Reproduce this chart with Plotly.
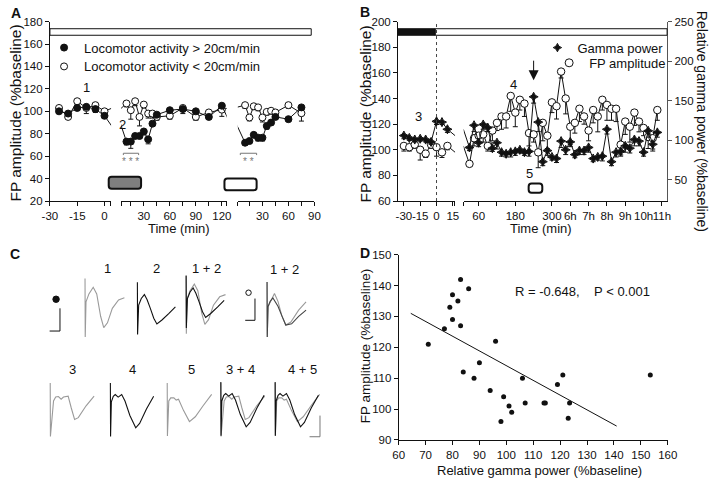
import plotly.graph_objects as go

W, H = 720, 484
FONT = "Liberation Sans, Arial, sans-serif"
INK = "#111111"
GREY = "#9a9a9a"

def px_x(p):
    return p / W

def px_y(p):
    return 1 - p / H

# ---------------- Panel A data ----------------
A_T_BASE = [-25, -20, -15, -10, -5, 0]
A_T_INJ1 = [10, 15, 20, 25, 30, 35, 40, 45, 60, 75, 90, 105, 120]
A_T_INJ2 = [10, 15, 20, 25, 30, 35, 40, 45, 60, 75]
A_INJ2_START = 130  # second session start on the first time frame (min)

A_FAST_BASE = [100, 98, 103, 104, 102, 96]
A_FAST_INJ1 = [73, 73, 78, 78, 82, 75, 89, 97, 101, 102, 100, 95, 105]
A_FAST_INJ2 = [72, 73.5, 79, 76.5, 76.5, 87, 90, 95, 93, 103.5]
A_SLOW_BASE = [103, 95, 109, 103, 105.5, 100]
A_SLOW_INJ1 = [107, 101, 109, 95, 106, 98, 98, 95, 96, 103, 95, 99, 101.5]
A_SLOW_INJ2 = [105.5, 94.5, 104.5, 103.5, 94.5, 99.5, 100.5, 99, 105.5, 98.3]

A_FAST_ERR_BASE = [2, 2, 2, 2, 3, 2]
A_FAST_ERR_INJ1 = [3, 6, 2, 2, 3, 4, 2, 2, 2, 2, 2, 2, 2]
A_FAST_ERR_INJ2 = [2, 2, 2, 3, 3, 3, 2, 2, 2, 2]
A_SLOW_ERR_BASE = [2, 2, 3, 5, 3, 3]
A_SLOW_ERR_INJ1 = [3, 8, 4, 8, 3, 4, 4, 3, 3, 5, 3, 3, 6]
A_SLOW_ERR_INJ2 = [3, 3, 3, 3, 4, 3, 3, 3, 3, 7]

# ---------------- Panel B data ----------------
B_T_PRE = [-30, -25, -20, -15, -10, -5, 0, 5, 10]
B_GAMMA_PRE = [106, 103, 101, 102, 101, 98, 124, 123, 114]
B_FP_PRE = [103, 102, 104, 100, 97, 104, 102, 98, 103]
B_GAMMA_ERR_PRE = [4, 3, 3, 3, 3, 3, 4, 3, 4]
B_FP_ERR_PRE = [4, 3, 3, 8, 3, 3, 7, 4, 3]

B_T_POST = [30, 45, 60, 75, 90, 105, 120, 135, 150, 165, 180, 195, 210, 225,
            240, 255, 270, 285, 300, 315, 330, 345, 360, 375, 390, 405, 420,
            435, 450, 465, 480, 495, 510, 525, 540, 555, 570, 585, 600, 615,
            630, 645]
B_GAMMA_POST = [91, 119, 97, 120, 116, 90, 97, 85, 83, 85, 86, 88, 85, 86, 155,
                123, 73, 87, 79, 77, 99, 88, 98, 82, 87, 87, 91, 77, 79, 80,
                114, 73, 85, 86, 93, 90, 101, 99, 85, 112, 95, 110]
B_FP_POST = [89, 109, 111, 112, 103, 115, 121, 126, 126, 142, 129, 139, 136,
             113, 112, 98, 121, 111, 137, 134, 161, 140, 118, 121, 132, 126,
             115, 131, 126, 139, 135, 132, 132, 104, 122, 118, 129, 122, 117,
             110, 109, 131]
B_FP_ERR_POST = [0, 6, 5, 6, 4, 8, 6, 10, 9, 12, 11, 8, 10, 10, 6, 12, 14, 10,
                 8, 10, 5, 12, 14, 8, 10, 6, 8, 10, 12, 8, 12, 9, 10, 8, 10,
                 12, 10, 8, 6, 9, 10, 8]
B_GAMMA_ERR_POST = [4, 8, 5, 6, 5, 4, 8, 5, 4, 6, 5, 4, 4, 6, 8, 12, 5, 6, 4, 5,
                    8, 6, 6, 4, 5, 5, 6, 4, 4, 6, 6, 5, 6, 6, 8, 6, 8, 6, 5, 8,
                    6, 6]
B_X2_TICKS = [11, 60, 120, 180, 240, 300, 360, 420, 480, 540, 600, 660]
B_X2_LABELS = ["", "60", "", "180", "", "300", "6h", "7h", "8h", "9h", "10h", "11h"]

# ---------------- Panel C data (ms, mV) ----------------
C_W1_T = [0, 0.05, 0.25, 1, 2.1, 3, 4, 4.8, 5.75, 7, 8.6, 10.1]
C_W1_V = [0.53, -0.8, 0, 0.18, 0.33, 0.18, -0.33, -0.59, -0.48, -0.15, 0.04, 0.09]
C_W2_T = [0, 0.05, 0.33, 1, 1.8, 2.5, 3.3, 4.2, 5, 6.3, 8.1, 9.75]
C_W2_V = [0.52, -0.67, 0, 0.15, 0.24, 0.12, -0.07, -0.3, -0.43, -0.34, -0.19, -0.04]
C_O1_T = [0, 0.05, 0.25, 1, 1.9, 2.8, 3.8, 4.8, 6.1, 8.1, 10]
C_O1_V = [0.56, -0.69, 0, 0.15, 0.3, 0.12, -0.21, -0.42, -0.35, -0.08, 0.11]
C_O2_T = [0, 0.05, 0.25, 0.8, 1.5, 2.8, 3.8, 4.8, 6.3, 8.1, 10]
C_O2_V = [0.56, -0.69, 0, 0.12, 0.2, 0.01, -0.21, -0.42, -0.39, -0.22, -0.08]
C_W3_T = [0, 0.05, 0.85, 1.4, 2.1, 2.8, 3.4, 4.6, 5.4, 6.25, 7.2, 9.2, 11.25]
C_W3_V = [0.41, -0.81, 0, 0.09, 0.1, 0.04, 0.09, 0.11, -0.16, -0.42, -0.38, -0.11, 0.11]
C_W4_T = [0, 0.05, 0.25, 0.75, 1.25, 2, 2.9, 3.75, 5, 6.5, 7.5, 9.25, 11.1]
C_W4_V = [0.43, -0.79, 0, 0.13, 0.17, 0.11, 0.17, 0.02, -0.31, -0.59, -0.49, -0.16, 0.13]
C_W5_T = [0, 0.05, 0.4, 0.9, 1.7, 2.3, 2.9, 4.2, 5.7, 7.2, 9.2, 11.4]
C_W5_V = [0.41, -0.8, 0, 0.07, 0.07, 0.02, 0.04, -0.22, -0.47, -0.36, -0.11, 0.15]

# ---------------- Panel D data ----------------
D_GAMMA = [71, 77, 79, 80, 80, 82, 83, 83, 86, 84, 88, 90, 94, 96, 99, 98, 101,
           102, 106, 107, 114, 114.5, 119, 121, 123.5, 123, 153.5]
D_FP = [121, 126, 133, 137, 129, 135, 127, 142, 139, 112, 110, 115, 106, 122,
        104, 96, 101, 99, 110, 102, 102, 102, 108, 111, 102, 97, 111]
D_FIT_X = [64.5, 141]
D_FIT_Y = [131, 94.5]

fig = go.Figure()


def series(x, y, xa, ya, filled, err, symbol="circle", size=7):
    return go.Scatter(
        x=x, y=y, xaxis=xa, yaxis=ya, mode="lines+markers",
        line=dict(color=INK, width=1),
        marker=dict(symbol=symbol, size=size, color=INK if filled else "white",
                    line=dict(color=INK, width=1)),
        error_y=dict(type="data", symmetric=False, array=[0] * len(err),
                     arrayminus=err, color=INK, thickness=1, width=2.5),
        showlegend=False, hoverinfo="skip")


def connector(x, y, xa, ya):
    return go.Scatter(x=x, y=y, xaxis=xa, yaxis=ya, mode="lines",
                      line=dict(color=INK, width=1), showlegend=False,
                      hoverinfo="skip")


# ---- Panel A traces ----
for base, inj1, inj2, eb, e1, e2, filled in [
        (A_SLOW_BASE, A_SLOW_INJ1, A_SLOW_INJ2, A_SLOW_ERR_BASE, A_SLOW_ERR_INJ1, A_SLOW_ERR_INJ2, False),
        (A_FAST_BASE, A_FAST_INJ1, A_FAST_INJ2, A_FAST_ERR_BASE, A_FAST_ERR_INJ1, A_FAST_ERR_INJ2, True)]:
    fig.add_trace(connector([A_T_BASE[-1], A_T_INJ1[0]], [base[-1], inj1[0]], "x", "y"))
    fig.add_trace(connector([A_T_BASE[-1], A_T_INJ1[0]], [base[-1], inj1[0]], "x2", "y"))
    fig.add_trace(connector([A_T_INJ1[-1], A_T_INJ2[0] + A_INJ2_START], [inj1[-1], inj2[0]], "x2", "y"))
    fig.add_trace(connector([A_T_INJ1[-1] - A_INJ2_START, A_T_INJ2[0]], [inj1[-1], inj2[0]], "x3", "y"))
    fig.add_trace(series(A_T_BASE, base, "x", "y", filled, eb))
    fig.add_trace(series(A_T_INJ1, inj1, "x2", "y", filled, e1))
    fig.add_trace(series(A_T_INJ2, inj2, "x3", "y", filled, e2))

fig.add_trace(go.Scatter(x=[None], y=[None], xaxis="x", yaxis="y", mode="markers",
                         marker=dict(symbol="circle", size=7, color=INK, line=dict(color=INK, width=1)),
                         name="Locomotor activity > 20cm/min", legend="legend"))
fig.add_trace(go.Scatter(x=[None], y=[None], xaxis="x", yaxis="y", mode="markers",
                         marker=dict(symbol="circle", size=7, color="white", line=dict(color=INK, width=1)),
                         name="Locomotor activity < 20cm/min", legend="legend2"))

# ---- Panel B traces ----
fig.add_trace(connector([B_T_PRE[-1], B_T_POST[0]], [B_FP_PRE[-1], B_FP_POST[0]], "x4", "y2"))
fig.add_trace(connector([B_T_PRE[-1], B_T_POST[0]], [B_FP_PRE[-1], B_FP_POST[0]], "x5", "y2"))
fig.add_trace(connector([B_T_PRE[-1], B_T_POST[0]], [B_GAMMA_PRE[-1], B_GAMMA_POST[0]], "x4", "y3"))
fig.add_trace(connector([B_T_PRE[-1], B_T_POST[0]], [B_GAMMA_PRE[-1], B_GAMMA_POST[0]], "x5", "y3"))
fig.add_trace(series(B_T_PRE, B_FP_PRE, "x4", "y2", False, B_FP_ERR_PRE, size=7.5))
fig.add_trace(series(B_T_POST, B_FP_POST, "x5", "y2", False, B_FP_ERR_POST, size=7.5))
fig.add_trace(series(B_T_PRE, B_GAMMA_PRE, "x4", "y3", True, B_GAMMA_ERR_PRE, symbol="star-diamond", size=6.5))
fig.add_trace(series(B_T_POST, B_GAMMA_POST, "x5", "y3", True, B_GAMMA_ERR_POST, symbol="star-diamond", size=6.5))
fig.add_trace(go.Scatter(x=[None], y=[None], xaxis="x5", yaxis="y2", mode="markers",
                         marker=dict(symbol="star-diamond", size=6, color=INK, line=dict(color=INK, width=1)),
                         name="Gamma power", legend="legend3"))
fig.add_trace(go.Scatter(x=[None], y=[None], xaxis="x5", yaxis="y2", mode="markers",
                         marker=dict(symbol="circle", size=8, color="white", line=dict(color=INK, width=1)),
                         name="FP amplitude", legend="legend4"))

# ---- Panel C traces ----
C_CELLS = [
    # (artifact x px, baseline y px, traces)
    (79.0, 303.3, [(C_W1_T, C_W1_V, GREY)]),
    (132.7, 306.7, [(C_W2_T, C_W2_V, INK)]),
    (182.7, 300.0, [(C_W1_T, C_W1_V, GREY), (C_W2_T, C_W2_V, INK)]),
    (265.7, 308.3, [(C_O1_T, C_O1_V, GREY), (C_O2_T, C_O2_V, "#444444")]),
    (43.3, 405.0, [(C_W3_T, C_W3_V, GREY)]),
    (105.0, 406.0, [(C_W4_T, C_W4_V, INK)]),
    (163.3, 405.0, [(C_W5_T, C_W5_V, GREY)]),
    (218.3, 405.0, [(C_W3_T, C_W3_V, GREY), (C_W4_T, C_W4_V, INK)]),
    (274.0, 405.0, [(C_W5_T, C_W5_V, GREY), (C_W4_T, C_W4_V, INK)]),
]

layout_axes = {}
for k, (ax, by, traces) in enumerate(C_CELLS):
    xn, yn = 7 + k, 5 + k
    for t, v, col in traces:
        fig.add_trace(go.Scatter(x=t, y=v, xaxis=f"x{xn}", yaxis=f"y{yn}", mode="lines",
                                 line=dict(color=col, width=1.1), showlegend=False,
                                 hoverinfo="skip"))
    layout_axes[f"xaxis{xn}"] = dict(domain=[px_x(ax - 4), px_x(ax + 48)], range=[-1, 12],
                                     anchor=f"y{yn}", visible=False)
    layout_axes[f"yaxis{yn}"] = dict(domain=[px_y(by + 45), px_y(by - 31.5)], range=[-1.0, 0.7],
                                     anchor=f"x{xn}", visible=False)

# ---- Panel D traces ----
fig.add_trace(go.Scatter(x=D_FIT_X, y=D_FIT_Y, xaxis="x6", yaxis="y4", mode="lines",
                         line=dict(color=INK, width=1), showlegend=False, hoverinfo="skip"))
fig.add_trace(go.Scatter(x=D_GAMMA, y=D_FP, xaxis="x6", yaxis="y4", mode="markers",
                         marker=dict(size=5, color=INK), showlegend=False, hoverinfo="skip"))

# ---------------- axes ----------------
TICKFONT = dict(family=FONT, size=11.5, color=INK)


def axis(**kw):
    d = dict(showgrid=False, zeroline=False, showline=True, linecolor=INK, linewidth=1,
             ticks="outside", ticklen=4, tickcolor=INK, tickwidth=1, tickfont=TICKFONT,
             tickmode="array", tickangle=0)
    d.update(kw)
    return d


layout_axes.update(
    xaxis=axis(domain=[px_x(43), px_x(105.7)], range=[-30, 3.6], anchor="y",
               tickvals=[-30, -15, 0, 3.55], ticktext=["-30", "-15", "0", ""]),
    xaxis2=axis(domain=[px_x(116), px_x(224.3)], range=[3.8, 125.6], anchor="y",
                tickvals=[3.85, 15, 30, 45, 60, 75, 90, 105, 120, 125.5],
                ticktext=["", "", "30", "", "60", "", "90", "", "120", ""]),
    xaxis3=axis(domain=[px_x(235.7), px_x(314.3)], range=[1.6, 90], anchor="y",
                tickvals=[1.65, 15, 30, 45, 60, 75, 90],
                ticktext=["", "", "30", "", "60", "", "90"]),
    yaxis=axis(domain=[px_y(200), px_y(16)], range=[20, 180], anchor="x",
               tickvals=[20, 40, 60, 80, 100, 120, 140, 160, 180]),
    xaxis4=axis(domain=[px_x(400), px_x(458.5)], range=[-35.4, 17], anchor="y2",
                tickvals=[-30, -15, 0, 15, 16.9], ticktext=["-30", "-15", "0", "15", ""]),
    xaxis5=axis(domain=[px_x(467.3), px_x(676)], range=[10.85, 677], anchor="y2",
                tickvals=B_X2_TICKS, ticktext=B_X2_LABELS),
    yaxis2=axis(domain=[px_y(200), px_y(16)], range=[60, 200], anchor="x4",
                tickvals=[60, 80, 100, 120, 140, 160, 180, 200]),
    yaxis3=axis(range=[23.3, 250], anchor="x5", overlaying="y2", side="right",
                linecolor="#555555", tickcolor="#555555",
                tickvals=[50, 100, 150, 200, 250]),
    xaxis6=axis(domain=[px_x(400.7), px_x(676.7)], range=[60, 160], anchor="y4",
                tickvals=list(range(60, 161, 10))),
    yaxis4=axis(domain=[px_y(445), px_y(255)], range=[90, 150], anchor="x6",
                tickvals=list(range(90, 151, 10))),
)


# ---------------- annotations ----------------
def ann(text, x, y, size=13, angle=0, color=INK, bold=False):
    return dict(text=f"<b>{text}</b>" if bold else text, x=px_x(x), y=px_y(y),
                xref="paper", yref="paper", showarrow=False, textangle=angle,
                font=dict(family=FONT, size=size, color=color),
                xanchor="center", yanchor="middle")


NB = "\u00a0"
annotations = [
    ann("A", 8, 7.5, 14, bold=True), ann("B", 366, 6.5, 14, bold=True),
    ann("C", 7.5, 254.5, 14, bold=True), ann("D", 366, 253.3, 14, bold=True),
    ann("FP amplitude (%baseline)", 7.5, 110, 15.5, angle=-90),
    ann("FP amplitude (%baseline)", 367, 110.5, 15.5, angle=-90),
    ann("Relative gamma power (%baseline)", 712, 118, 14, angle=90),
    ann("FP amplitude (%baseline)", 367, 349, 13.5, angle=-90),
    ann("Time (min)", 175, 228, 13), ann("Time (min)", 546.7, 228.3, 13),
    ann("Relative gamma power (%baseline)", 545, 476, 13),
    ann("1", 80, 84), ann("2", 117.3, 121.7),
    ann("3", 421, 113.3), ann("4", 518.3, 80), ann("5", 535, 171.7),
    ann("* * *", 126, 159, 10, color="#777777"), ann("* *", 246.7, 159, 10, color="#777777"),
    ann(f"R = -0.648,{NB*4}P < 0.001", 589, 292.7, 13),
    ann("1", 101.7, 269.3), ann("2", 152.7, 269.3), ann("1 + 2", 204, 269.3),
    ann("1 + 2", 283.3, 270), ann("3", 65.7, 372.7), ann("4", 127.7, 372.7),
    ann("5", 187.7, 372.7), ann("3 + 4", 238.3, 372.7), ann("4 + 5", 301.7, 372.7),
    dict(text="", x=240, y=154.3, xref="x5", yref="y2", ax=0, ay=-21, showarrow=True,
         arrowhead=2, arrowsize=2, arrowwidth=1, arrowcolor=INK, standoff=0),
]


# ---------------- shapes ----------------
def P(x, y):
    return f"{px_x(x):.5f},{px_y(y):.5f}"


def rounded_box(x0, y0, x1, y1, r, fill, lw=2):
    path = (f"M {P(x0 + r, y0)} L {P(x1 - r, y0)} Q {P(x1, y0)} {P(x1, y0 + r)} "
            f"L {P(x1, y1 - r)} Q {P(x1, y1)} {P(x1 - r, y1)} "
            f"L {P(x0 + r, y1)} Q {P(x0, y1)} {P(x0, y1 - r)} "
            f"L {P(x0, y0 + r)} Q {P(x0, y0)} {P(x0 + r, y0)} Z")
    return dict(type="path", path=path, xref="paper", yref="paper", fillcolor=fill,
                line=dict(color=INK, width=lw))


def rect(x0, y0, x1, y1, fill, lw=1):
    return dict(type="rect", xref="paper", yref="paper", x0=px_x(x0), x1=px_x(x1),
                y0=px_y(y1), y1=px_y(y0), fillcolor=fill, line=dict(color=INK, width=lw))


def pline(pts, color=INK, lw=1):
    path = "M " + " L ".join(P(x, y) for x, y in pts)
    return dict(type="path", path=path, xref="paper", yref="paper",
                line=dict(color=color, width=lw))


def dot(cx, cy, r, fill):
    return dict(type="circle", xref="paper", yref="paper", x0=px_x(cx - r), x1=px_x(cx + r),
                y0=px_y(cy + r), y1=px_y(cy - r), fillcolor=fill, line=dict(color=INK, width=1))


shapes = [
    rect(43, 23.3, 311, 30, "white"),
    rect(400, 23.3, 438.3, 30, INK),
    rect(438.3, 23.3, 676, 30, "white"),
    rounded_box(103.3, 175, 136.5, 187.3, 3, "#7f7f7f"),
    rounded_box(222, 177, 255, 189, 3, "white"),
    rounded_box(534, 182, 548, 191.5, 3, "white"),
    dict(type="line", xref="x4", yref="y2", x0=0, x1=0, y0=60, y1=200,
         line=dict(color="#444444", width=1, dash="dot")),
    dict(type="path", xref="x2", yref="y", path="M 6.4,61 L 6.4,62.6 L 24,62.6 L 24,61",
         line=dict(color="#777777", width=1)),
    dict(type="path", xref="x3", yref="y", path="M 4.5,61 L 4.5,62.6 L 23.3,62.6 L 23.3,61",
         line=dict(color="#777777", width=1)),
    pline([(53.3, 310), (53.3, 333.3), (42.7, 333.3)]),
    pline([(253.3, 300), (253.3, 322.3), (243.3, 322.3)]),
    pline([(320, 420), (320, 441.7), (309.3, 441.7)], color="#777777"),
    dot(49.3, 300.7, 3.3, INK),
    dot(246.7, 294, 2.8, "white"),
]


def legend_at(text_x, y):
    return dict(x=px_x(text_x - 40), y=px_y(y), xanchor="left", yanchor="middle",
                font=dict(family=FONT, size=13, color=INK), bgcolor="rgba(0,0,0,0)",
                borderwidth=0, itemwidth=30, tracegroupgap=0)


fig.update_layout(
    width=W, height=H, margin=dict(l=0, r=0, t=0, b=0),
    paper_bgcolor="white", plot_bgcolor="white",
    font=dict(family=FONT, size=13, color=INK),
    showlegend=True,
    legend=legend_at(77, 42.7), legend2=legend_at(77, 62),
    legend3=legend_at(583, 42.7), legend4=legend_at(595, 58.3),
    annotations=annotations, shapes=shapes,
    **layout_axes,
)

fig.write_html(
    "out.html",
    config={"displayModeBar": False, "staticPlot": True},
    post_script="document.body.style.margin='0px';document.body.style.padding='0px';"
                "document.body.style.overflow='hidden';",
)
